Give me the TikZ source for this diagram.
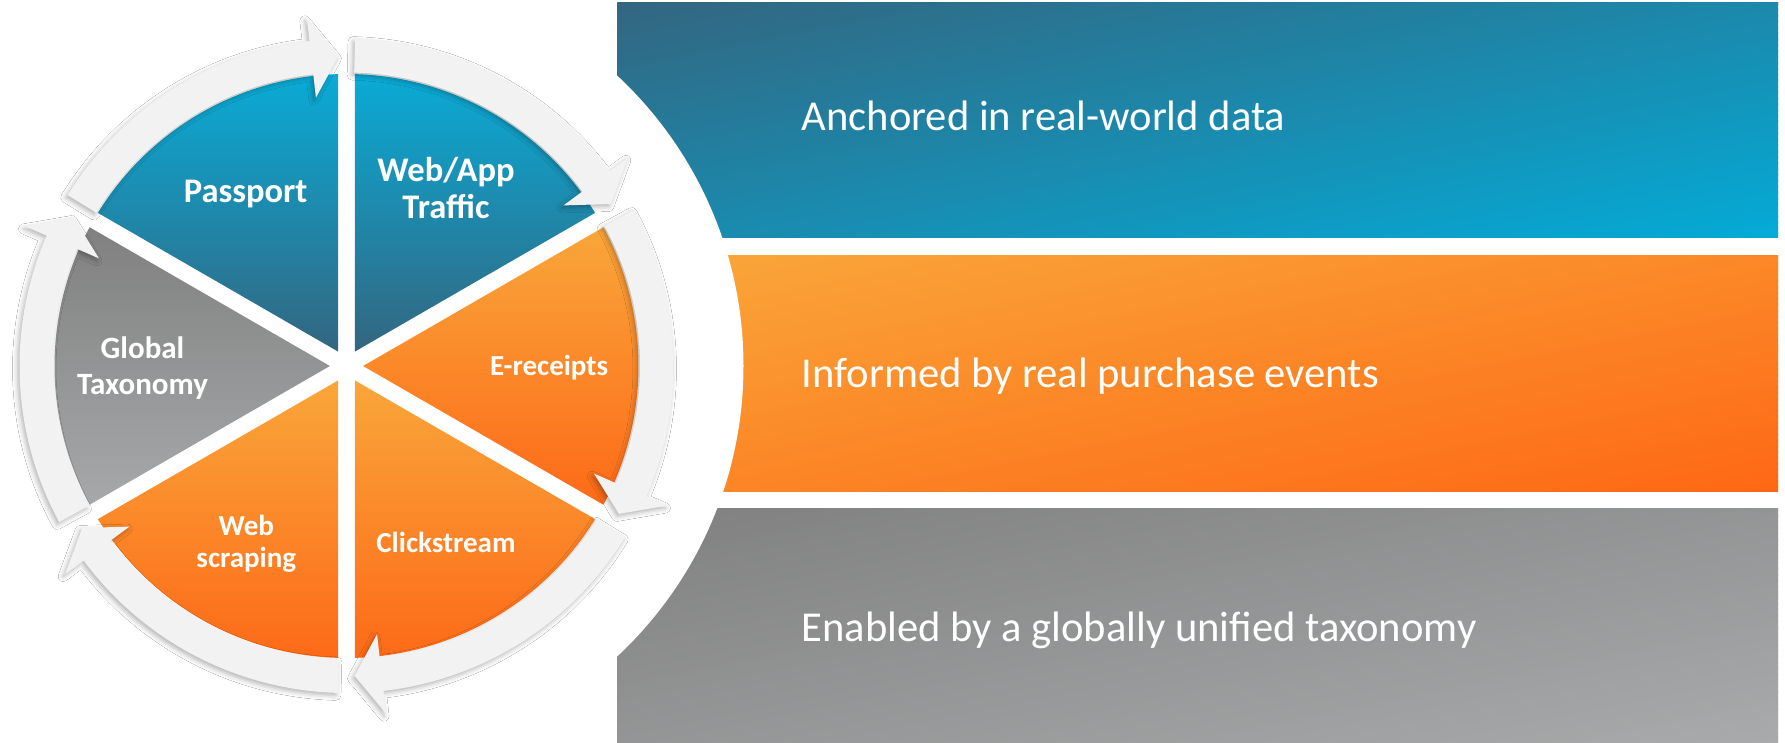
\documentclass[tikz,border=0pt]{standalone}
\usepackage{fontspec}
\setmainfont{Carlito}
\usetikzlibrary{shadows.blur}

\definecolor{blueTop}{RGB}{10,171,214}
\definecolor{blueBot}{RGB}{51,102,128}
\definecolor{orangeTop}{RGB}{249,166,58}
\definecolor{orangeBot}{RGB}{253,106,24}
\definecolor{grayTop}{RGB}{128,128,128}
\definecolor{grayBot}{RGB}{166,168,169}
\definecolor{ringGray}{RGB}{242,242,242}
\definecolor{bannerBlueA}{RGB}{51,102,128}
\definecolor{bannerBlueB}{RGB}{4,171,215}
\definecolor{bannerOrangeA}{RGB}{249,168,58}
\definecolor{bannerOrangeB}{RGB}{254,104,21}
\definecolor{bannerGrayA}{RGB}{128,128,128}
\definecolor{bannerGrayB}{RGB}{168,170,171}

\tikzset{
  ringarrow/.style={fill=ringGray,
    blur shadow={shadow xshift=-2pt, shadow yshift=-2.5pt,
                 shadow blur radius=5pt, shadow opacity=30}},
  labelbig/.style={text=white, anchor=base, inner sep=0pt,
    font=\fontsize{34.5}{37.5}\selectfont\bfseries},
  labelmid/.style={text=white, anchor=base, inner sep=0pt,
    font=\fontsize{31}{35.5}\selectfont\bfseries},
  labelsmall/.style={text=white, anchor=base, inner sep=0pt,
    font=\fontsize{29}{32.3}\selectfont\bfseries},
  bannertext/.style={text=white, anchor=base west, inner sep=0pt,
    font=\fontsize{42.6}{50}\selectfont},
}

\newcommand\twolines[2]{\begin{tabular}[t]{@{}c@{}}#1\\#2\end{tabular}}

% banner with a diagonal gradient from its top-left corner (colour #5)
% to its bottom-right corner (colour #6), scaled with the shape
% #1,#2 lower-left corner, #3 width, #4 height
\newcommand\diagbanner[6]{%
  \begin{scope}[shift={(#1,#2)}, x=#3pt, y=#4pt]
    \clip (0,0) rectangle (1,1);
    \foreach \i in {0,...,79} {
      \pgfmathsetmacro\pct{100*(\i+0.5)/80}
      \pgfmathsetmacro\ua{2*\i/80-1}
      \pgfmathsetmacro\ub{2*(\i+1.6)/80-1}
      \fill[fill={#6!\pct!#5}]
        (\ua-1,-1) -- (\ua+2,2) -- (\ub+2,2) -- (\ub-1,-1) -- cycle;
    }
  \end{scope}}

\begin{document}
\begin{tikzpicture}[x=1pt,y=1pt]
  % page frame, origin at the centre of the wheel
  \useasboundingbox (-346.5,-377) rectangle (1438.5,366);

  % three banners on the right
  \diagbanner{270.5}{128}{1161}{235.6}{bannerBlueA}{bannerBlueB}
  \diagbanner{270.5}{-125.5}{1161}{235.5}{bannerOrangeA}{bannerOrangeB}
  \diagbanner{270.5}{-377}{1161}{234.5}{bannerGrayA}{bannerGrayB}

  % white disc behind the wheel
  \fill[white] (0,0) circle[radius=397pt];

  % six pie sectors separated by straight gaps
  \foreach \b/\tc/\bc in {90/blueTop/blueBot, 30/blueTop/blueBot,
      -30/orangeTop/orangeBot, -90/orangeTop/orangeBot,
      -150/orangeTop/orangeBot, 150/grayTop/grayBot}
    \path[top color=\tc, bottom color=\bc]
      ({\b+30}:16.6pt) -- ({\b+1.63}:292pt)
      arc[start angle={\b+1.63}, end angle={\b+58.37}, radius=292pt] -- cycle;

  % clockwise ring arrows, one per sector
  \foreach \b in {90,30,-30,-90,-150,150}
    \path[ringarrow]
      ({\b+58.5}:327pt)
      arc[start angle={\b+58.5}, end angle={\b+6.5}, radius=327pt]
      -- ({\b+6.5}:350pt) -- ({\b+1.5}:310pt) -- ({\b+6.5}:270pt)
      -- ({\b+6.5}:293.5pt)
      arc[start angle={\b+6.5}, end angle={\b+58.5}, radius=293.5pt]
      -- cycle;

  % sector labels
  \node[labelbig]   (passport)  at (-100.9,163.2) {Passport};
  \node[labelbig]   (webapp)    at (99.5,184.5)   {\twolines{Web/App}{Traffic}};
  \node[labelsmall] (ereceipts) at (202.6,-9.8)   {E-receipts};
  \node[labelsmall] (click)     at (99.5,-186.6)  {Clickstream};
  \node[labelsmall] (scraping)  at (-100.2,-169.5) {\twolines{Web}{scraping}};
  \node[labelmid]   (taxonomy)  at (-204,7.2)     {\twolines{Global}{Taxonomy}};

  % banner texts
  \node[bannertext] (anchored) at (455,235.7)  {Anchored in real-world data};
  \node[bannertext] (informed) at (455,-21.7)  {Informed by real purchase events};
  \node[bannertext] (enabled)  at (455,-275.2) {Enabled by a globally unified taxonomy};
\end{tikzpicture}
\end{document}
